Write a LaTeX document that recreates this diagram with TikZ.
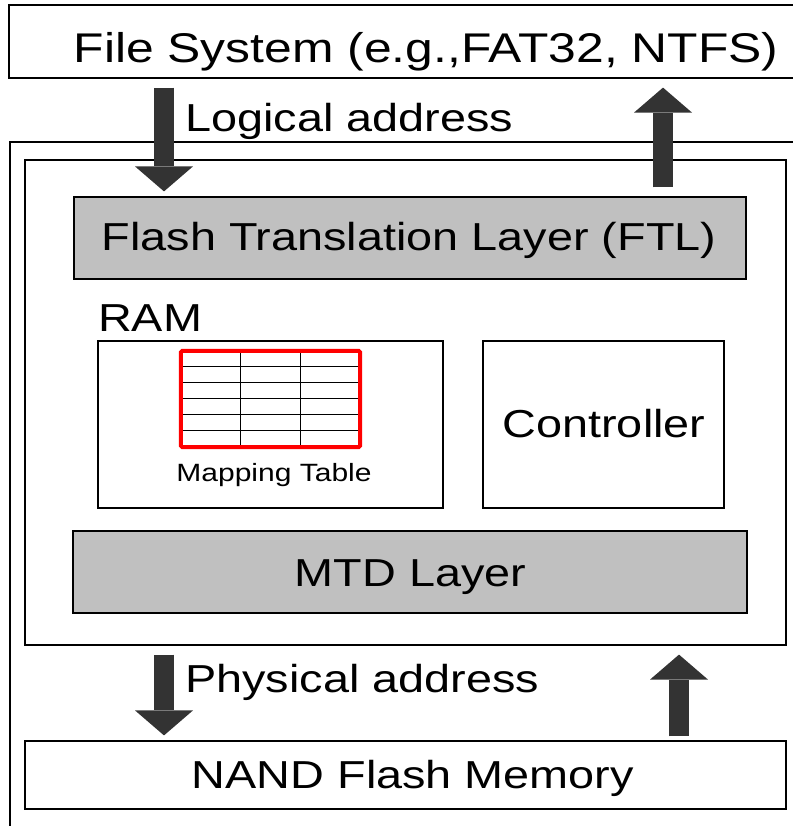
\documentclass[tikz,border=0pt]{standalone}
\usepackage{fontspec}
\setmainfont{Liberation Sans}
\usepackage{graphicx}
\usetikzlibrary{arrows.meta}
\usetikzlibrary{calc}
\definecolor{layergray}{RGB}{192,192,192}
\definecolor{arrowgray}{RGB}{51,51,51}
\newcommand{\stretched}[1]{\scalebox{1.2}[1]{#1}}

\begin{document}
\begin{tikzpicture}[x=1pt,y=-1pt,
         box/.style = {draw,line width=1.2pt,inner sep=0pt},
         layer/.style = {box,fill=layergray},
         txt/.style = {inner sep=0pt,font=\fontsize{39}{47}\selectfont},
         smalltxt/.style = {inner sep=0pt,font=\fontsize{25}{30}\selectfont},
         gridline/.style = {line width=1pt},
         blockarrow/.style = {line width=20pt,draw=arrowgray,
            -{Triangle[width=58pt,length=25pt,line width'=0pt]}}
]
      \useasboundingbox (0,0) rectangle (792,826);

      % outer frames
      \node[box,minimum width=833,minimum height=73] (fs) at (425.5,41.5) {};
      \node[box,minimum width=800,minimum height=708] (dev) at (410,496) {};
      \node[box,minimum width=761,minimum height=485] (ssd) at (405.5,402.5) {};
      \node[box,minimum width=761,minimum height=68] (nand) at (405.5,775) {};

      % layers inside the device
      \node[layer,minimum width=672,minimum height=82] (ftl) at (410,238) {};
      \node[box,minimum width=345,minimum height=167] (ram) at (270.5,424.5) {};
      \node[box,minimum width=241,minimum height=167] (ctrl) at (603.5,424.5) {};
      \node[layer,minimum width=674,minimum height=82] (mtd) at (410,572) {};

      % mapping table
      \node[inner sep=0pt,minimum width=179,minimum height=96] (tbl) at (270.5,399) {};
      \foreach \r in {1,...,5}
         \draw[gridline] ($(tbl.north west)+(0,16*\r)$) -- ($(tbl.north east)+(0,16*\r)$);
      \foreach \c in {1,2}
         \draw[gridline] ($(tbl.north west)+(60*\c,0)$) -- ($(tbl.south west)+(60*\c,0)$);
      \draw[red,line width=4pt,rounded corners=1.5pt] (tbl.north west) rectangle (tbl.south east);

      % texts
      \node[txt,anchor=base,font=\fontsize{41.5}{50}\selectfont] (fs-t) at (426,63) {\stretched{File System (e.g.,FAT32, NTFS)}};
      \node[txt,anchor=base west] (la-t) at (185,132) {\stretched{Logical address}};
      \node[txt,anchor=base] (ftl-t) at (409,250) {\stretched{Flash Translation Layer (FTL)}};
      \node[txt,anchor=base west] (ram-t) at (98,331) {\stretched{RAM}};
      \node[smalltxt,anchor=base] (tbl-t) at (274,481) {\stretched{Mapping Table}};
      \node[txt,anchor=base] (ctrl-t) at (604,437) {\stretched{Controller}};
      \node[txt,anchor=base] (mtd-t) at (410.5,586) {\stretched{MTD Layer}};
      \node[txt,anchor=base west] (pa-t) at (185,692) {\stretched{Physical address}};
      \node[txt,anchor=base] (nand-t) at (413,788) {\stretched{NAND Flash Memory}};

      % block arrows
      \coordinate (la) at (164,0);
      \coordinate (ra) at (663,0);
      \coordinate (lb) at (164,0);
      \coordinate (rb) at (679,0);
      \draw[blockarrow,shorten <=9pt,shorten >=5pt] (fs.south -| la) -- (ftl.north -| la);
      \draw[blockarrow,shorten <=9pt,shorten >=9pt] (ftl.north -| ra) -- (fs.south -| ra);
      \draw[blockarrow,shorten <=9pt,shorten >=5pt] (ssd.south -| lb) -- (nand.north -| lb);
      \draw[blockarrow,shorten <=4pt,shorten >=9pt] (nand.north -| rb) -- (ssd.south -| rb);
\end{tikzpicture}
\end{document}
